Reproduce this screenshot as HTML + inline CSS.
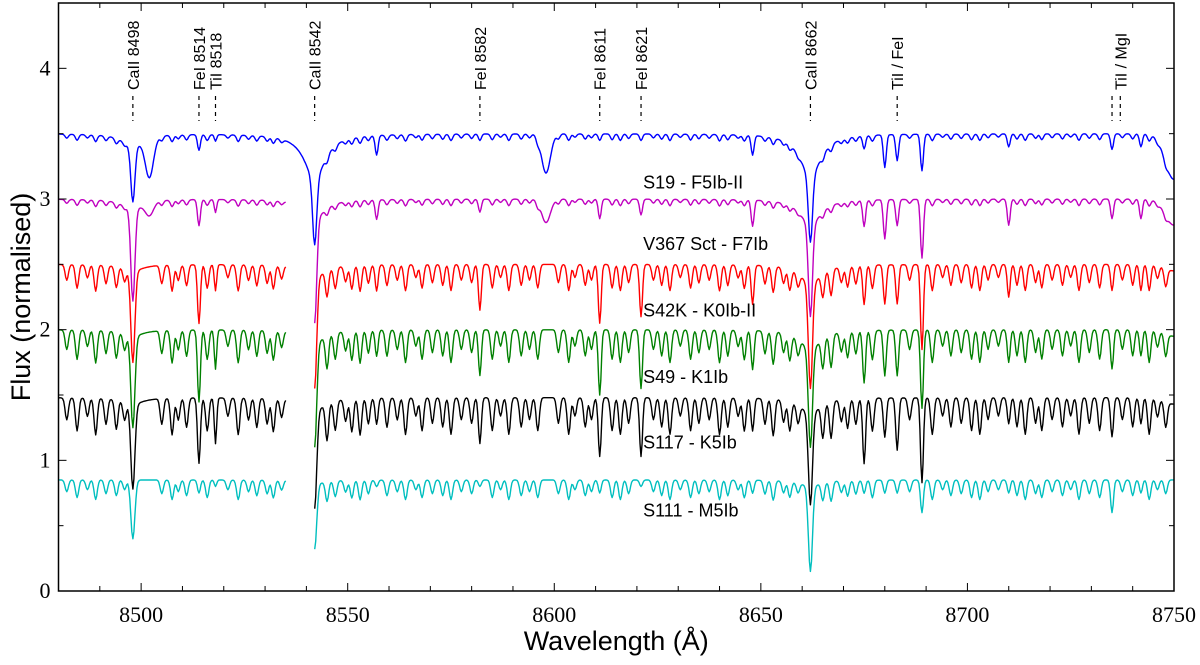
<!DOCTYPE html>
<html><head><meta charset="utf-8"><style>
body{margin:0;background:#fff;}
svg{display:block;}
.tick{font-family:"Liberation Serif",serif;font-size:22px;fill:#000;}
.lab{font-family:"Liberation Sans",sans-serif;font-size:16px;fill:#000;}
.sl{font-family:"Liberation Sans",sans-serif;font-size:18px;fill:#000;}
.ax{font-family:"Liberation Sans",sans-serif;font-size:27px;fill:#000;}
</style></head><body>
<svg id="chart" width="1200" height="665"></svg>
<script>
const xTicks=[8500,8550,8600,8650,8700,8750];
const yTicks=[0,1,2,3,4];
const starNames=["S19 - F5Ib-II","V367 Sct - F7Ib","S42K - K0Ib-II","S49 - K1Ib","S117 - K5Ib","S111 - M5Ib"];
const colors=["#0000ff","#bf00bf","#ff0000","#008000","#000000","#00bfbf"];
const continuum=[3.5,3.0,2.5,2.0,1.48,0.85];
const caCenters=[8498,8542,8662];
const caCore=[[0.42,0.5,0.5],[0.7,0.8,0.7],[0.7,0.85,0.8],[0.7,0.8,0.75],[0.65,0.75,0.7],[0.45,0.5,0.65]];
const caWing=[[0.1,0.35,0.33],[0.08,0.15,0.2],[0.05,0.1,0.15],[0.05,0.1,0.15],[0.05,0.1,0.12],[0.0,0.03,0.05]];
const metalCenters=[8502,8514,8518,8557,8582,8598,8611,8621,8648,8675,8680,8683,8689,8710,8735,8742,8750];
const metalWidths=[1.4,0.5,0.4,0.5,0.5,1.5,0.5,0.5,0.5,0.5,0.5,0.5,0.5,0.5,0.5,0.5,3];
const metalDepths=[
[0.3,0.12,0.05,0.15,0.05,0.3,0.05,0.05,0.15,0.1,0.25,0.2,0.28,0.1,0.12,0.1,0.35],
[0.1,0.2,0.1,0.15,0.1,0.18,0.15,0.12,0.2,0.2,0.3,0.2,0.45,0.2,0.15,0.15,0.2],
[0.0,0.45,0.2,0.2,0.35,0.0,0.45,0.4,0.3,0.3,0.3,0.3,0.65,0.25,0.2,0.2,0.05],
[0.0,0.55,0.3,0.2,0.35,0.0,0.5,0.45,0.3,0.4,0.35,0.35,0.6,0.25,0.3,0.2,0.05],
[0.0,0.5,0.35,0.2,0.35,0.0,0.45,0.45,0.25,0.5,0.3,0.4,0.65,0.2,0.3,0.2,0.05],
[0.0,0.1,0.05,0.05,0.05,0.0,0.1,0.05,0.1,0.1,0.1,0.1,0.25,0.1,0.25,0.1,0.0]];
const weakLines=[8482,8484.5,8487,8489,8491.5,8494,8496,8505,8507.5,8509,8511,8516,8521,8523.5,8526,8528,8530.5,8532,8534,8545,8547,8549.5,8551,8553,8555,8559.5,8562,8564,8566.5,8568,8570.5,8573,8575,8577.5,8580,8585,8587,8589,8592,8594,8596,8601,8603.5,8605,8607.5,8609,8614,8616,8618,8624,8626,8628,8630.5,8633,8635,8637.5,8640,8642,8644.5,8646,8651,8653,8655.5,8657,8659,8665,8667,8669.5,8671,8673,8677,8686,8691.5,8694,8696,8698.5,8701,8703,8705,8707.5,8712,8714,8716.5,8718,8720.5,8723,8725,8727,8729.5,8732,8737.5,8740,8744,8746,8748];
const weakDepths=[0.6,0.9,0.5,1.0,0.7,0.8,0.5,0.7,1.0,0.6,0.8,0.9,0.5,1.0,0.6,0.8,0.7,0.9,0.5,1.0,0.8,0.6,0.9,1.0,0.7,0.8,0.6,1.0,0.5,0.9,0.7,0.8,1.0,0.6,0.7,0.9,0.5,1.0,0.8,0.6,0.9,0.7,1.0,0.5,0.8,0.6,0.9,1.0,0.7,0.6,0.8,1.0,0.5,0.9,0.7,0.6,1.0,0.8,0.5,0.9,0.7,1.0,0.6,0.8,0.5,0.9,1.0,0.6,0.8,0.7,0.9,0.6,1.0,0.5,0.8,0.7,0.9,1.0,0.6,0.5,0.8,1.0,0.7,0.9,0.6,0.8,0.5,1.0,0.7,0.9,0.6,0.8,1.0,0.5];
const weakScale=[0.05,0.05,0.2,0.25,0.28,0.15];
const segments=[[[8480,8750]],[[8480,8535],[8542,8750]],[[8480,8535],[8542,8750]],[[8480,8535],[8542,8750]],[[8480,8535],[8542,8750]],[[8480,8535],[8542,8750]]];
const labelY=[3.08,2.61,2.1,1.59,1.09,0.57];
const markers=[{w:8498,t:"CaII 8498"},{w:8514,t:"FeI 8514"},{w:8518,t:"TiI 8518"},{w:8542,t:"CaII 8542"},{w:8582,t:"FeI 8582"},{w:8611,t:"FeI 8611"},{w:8621,t:"FeI 8621"},{w:8662,t:"CaII 8662"},{w:8683,t:"TiI / FeI"},{w:8735,t:""},{w:8737,t:"TiI / MgI"}];

const L=58.5,R=1174,T=3,B=591,X0=8480,X1=8750,Y0=0,Y1=4.5;
const sx=w=>L+(w-X0)/(X1-X0)*(R-L);
const sy=v=>B-(v-Y0)/(Y1-Y0)*(B-T);
const NS="http://www.w3.org/2000/svg";
const svg=document.getElementById('chart');
function mk(tag,at,parent){const e=document.createElementNS(NS,tag);for(const k in at)e.setAttribute(k,at[k]);(parent||svg).appendChild(e);return e;}
function num(v,def){return (typeof v==="number"&&isFinite(v))?v:def;}
function flux(s,w){
  let f=continuum[s];
  for(let i=0;i<caCenters.length;i++){const d=w-caCenters[i];const q=d/0.7;const r=d/3;
    f-=num(caCore[s][i],0)*Math.exp(-q*q);
    f-=num(caWing[s][i],0)/(1+r*r);}
  for(let i=0;i<metalCenters.length;i++){const d=(w-metalCenters[i])/num(metalWidths[i],0.5);f-=num(metalDepths[s][i],0)*Math.exp(-d*d);}
  for(let i=0;i<weakLines.length;i++){const d=(w-weakLines[i])/0.55;f-=weakScale[s]*num(weakDepths[i],0.7)*Math.exp(-d*d);}
  return f;
}
const plot=mk('g',{});


for(let s=0;s<starNames.length;s++){
  let dstr="";
  for(const seg of segments[s]){
    let first=true;
    for(let w=seg[0];w<=seg[1]+1e-6;w+=0.25){dstr+=(first?"M":"L")+sx(w).toFixed(1)+","+sy(flux(s,w)).toFixed(1);first=false;}
  }
  const p=mk('path',{d:dstr,fill:"none",stroke:colors[s],"stroke-width":1.4,"stroke-linejoin":"round"},plot);
  
  
  const t=mk('text',{x:sx(8621.5),y:sy(labelY[s]),class:"sl"});
  
  
  t.textContent=starNames[s];
}
for(const m of markers){
  const x=sx(m.w);
  const l=mk('line',{x1:x,y1:96,x2:x,y2:121,stroke:"#000","stroke-width":1.2,"stroke-dasharray":"4,4"});
  
  
  if(m.t){const t=mk('text',{x:0,y:0,class:"lab",transform:`translate(${x+6},90) rotate(-90)`});
    
    
    t.textContent=m.t;}
}
const frame=mk('rect',{x:L,y:T,width:R-L,height:B-T,fill:"none",stroke:"#000","stroke-width":1.5});


for(let w=8480;w<=8750;w+=10){const maj=xTicks.includes(w);const x=sx(w);const len=maj?8:5;
  mk('line',{x1:x,y1:B,x2:x,y2:B-len,stroke:"#000","stroke-width":1});
  mk('line',{x1:x,y1:T,x2:x,y2:T+len,stroke:"#000","stroke-width":1});}
for(const w of xTicks){const t=mk('text',{x:sx(w),y:B+31,"text-anchor":"middle",class:"tick"});
  
  
  t.textContent=w;}
for(let v=0;v<=4.5;v+=0.5){const maj=Number.isInteger(v);const y=sy(v);const len=maj?8:5;
  mk('line',{x1:L,y1:y,x2:L+len,y2:y,stroke:"#000","stroke-width":1});
  mk('line',{x1:R,y1:y,x2:R-len,y2:y,stroke:"#000","stroke-width":1});}
for(const v of yTicks){const t=mk('text',{x:L-8,y:sy(v)+7,"text-anchor":"end",class:"tick"});
  
  
  t.textContent=v;}
const xt=mk('text',{x:(L+R)/2,y:650,"text-anchor":"middle",class:"ax"});


xt.textContent="Wavelength (Å)";
const yt=mk('text',{x:0,y:0,"text-anchor":"middle",class:"ax",transform:`translate(30,${(T+B)/2}) rotate(-90)`});


yt.textContent="Flux (normalised)";
</script>
</body></html>
